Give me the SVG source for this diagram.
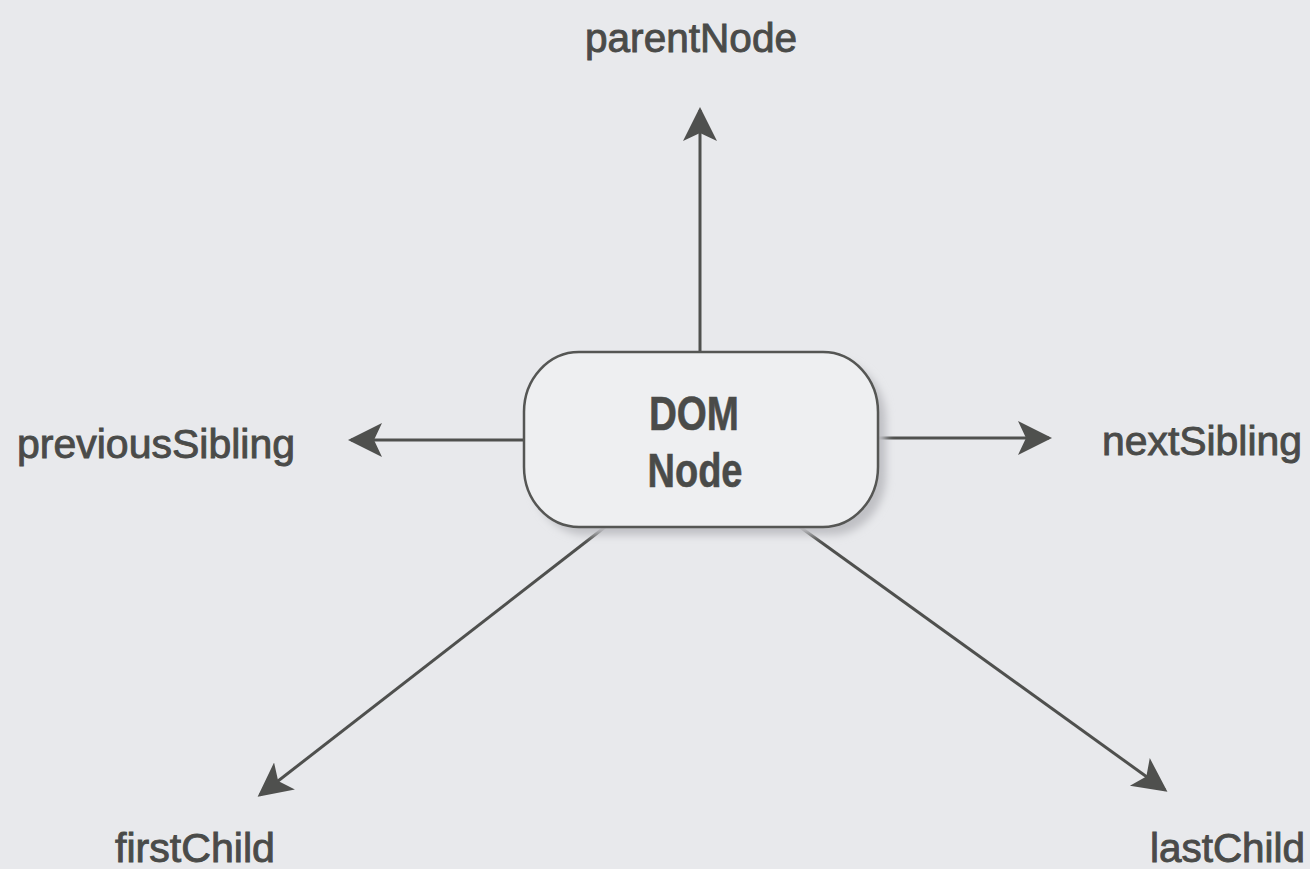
<svg xmlns="http://www.w3.org/2000/svg" width="1310" height="869" viewBox="0 0 1310 869">
  <style>
    .lbl { font-family: "Liberation Sans", Arial, sans-serif; font-size: 40px; fill: #4a4b49; stroke: #4a4b49; stroke-width: 0.9; }
    .nodetxt { font-family: "Liberation Sans", Arial, sans-serif; font-size: 48px; font-weight: bold; fill: #4a4b49; stroke: #4a4b49; stroke-width: 0.6; }
    .conn { stroke: #4f504e; stroke-width: 3; fill: none; marker-end: url(#arrow); }
  </style>
  <defs>
    <marker id="arrow" viewBox="0 0 36 36" refX="31" refY="18" markerWidth="36" markerHeight="36" markerUnits="userSpaceOnUse" orient="auto">
      <path d="M34,18 L0,1 L8,18 L0,35 Z" fill="#4f504e"/>
    </marker>
    <filter id="shadow" x="-20%" y="-20%" width="140%" height="140%">
      <feGaussianBlur stdDeviation="4"/>
    </filter>
  </defs>
  <rect width="1310" height="869" fill="#e8e9ec"/>

  <g id="connectors">
    <line class="conn" x1="700" y1="352" x2="700" y2="110"/>
    <line class="conn" x1="524" y1="440" x2="351" y2="440"/>
    <line class="conn" x1="878" y1="438" x2="1049" y2="438"/>
    <line class="conn" x1="605" y1="527" x2="260" y2="795"/>
    <line class="conn" x1="800" y1="527" x2="1165" y2="790"/>
  </g>

  <g id="dom-node">
    <rect x="532" y="360" width="354" height="175" rx="55" ry="60" fill="#bfc0c4" filter="url(#shadow)"/>
    <rect x="524" y="352" width="354" height="175" rx="55" ry="60" fill="#eeeff1" stroke="#555654" stroke-width="2.5"/>
    <text class="nodetxt" x="694" y="430" text-anchor="middle" textLength="90" lengthAdjust="spacingAndGlyphs">DOM</text>
    <text class="nodetxt" x="695" y="487" text-anchor="middle" textLength="95" lengthAdjust="spacingAndGlyphs">Node</text>
  </g>

  <g id="parentNode">
    <text class="lbl" x="691" y="52" text-anchor="middle" textLength="212" lengthAdjust="spacingAndGlyphs">parentNode</text>
  </g>
  <g id="previousSibling">
    <text class="lbl" x="17" y="458" textLength="278" lengthAdjust="spacingAndGlyphs">previousSibling</text>
  </g>
  <g id="nextSibling">
    <text class="lbl" x="1102" y="455" textLength="200" lengthAdjust="spacingAndGlyphs">nextSibling</text>
  </g>
  <g id="firstChild">
    <text class="lbl" x="115" y="862" textLength="160" lengthAdjust="spacingAndGlyphs">firstChild</text>
  </g>
  <g id="lastChild">
    <text class="lbl" x="1150" y="862" textLength="155" lengthAdjust="spacingAndGlyphs">lastChild</text>
  </g>
</svg>
